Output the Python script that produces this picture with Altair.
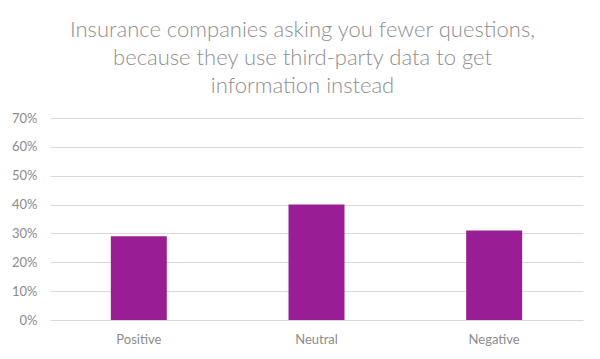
import altair as alt
import pandas as pd

categories = ["Positive", "Neutral", "Negative"]
values = [0.29, 0.40, 0.31]

df = pd.DataFrame({"category": categories, "value": values})

title_lines = [
    "Insurance companies asking you fewer questions,",
    "because they use third-party data to get",
    "information instead",
]

chart = alt.Chart(df).mark_bar(size=56, color="#991E95").encode(
    x=alt.X("category:N", sort=categories,
            scale=alt.Scale(paddingInner=0, paddingOuter=0),
            axis=alt.Axis(title=None, labelAngle=0, ticks=False, domain=False,
                          labelColor="#8c8c8c", labelFontSize=13, labelFont="Lato",
                          labelPadding=13)),
    y=alt.Y("value:Q", scale=alt.Scale(domain=[0, 0.7]),
            axis=alt.Axis(title=None, format=".0%", values=[0, 0.1, 0.2, 0.3, 0.4, 0.5, 0.6, 0.7],
                          ticks=False, domain=False, labelColor="#8c8c8c",
                          labelFontSize=13, labelFont="Lato", labelPadding=13,
                          gridColor="#d9d9d9", gridWidth=1)),
).properties(
    width=533,
    height=202,
    title=alt.TitleParams(text=title_lines, font="Lato", fontSize=22, fontWeight=300,
                          color="#8f8f8f", anchor="middle", lineHeight=28, offset=14, dx=-14),
    autosize=alt.AutoSizeParams(type="none"),
    padding={"left": 42, "top": 110, "right": 9, "bottom": 31},
).configure_view(stroke=None)

chart.save("out.html", embed_options={"renderer": "svg", "actions": False})
